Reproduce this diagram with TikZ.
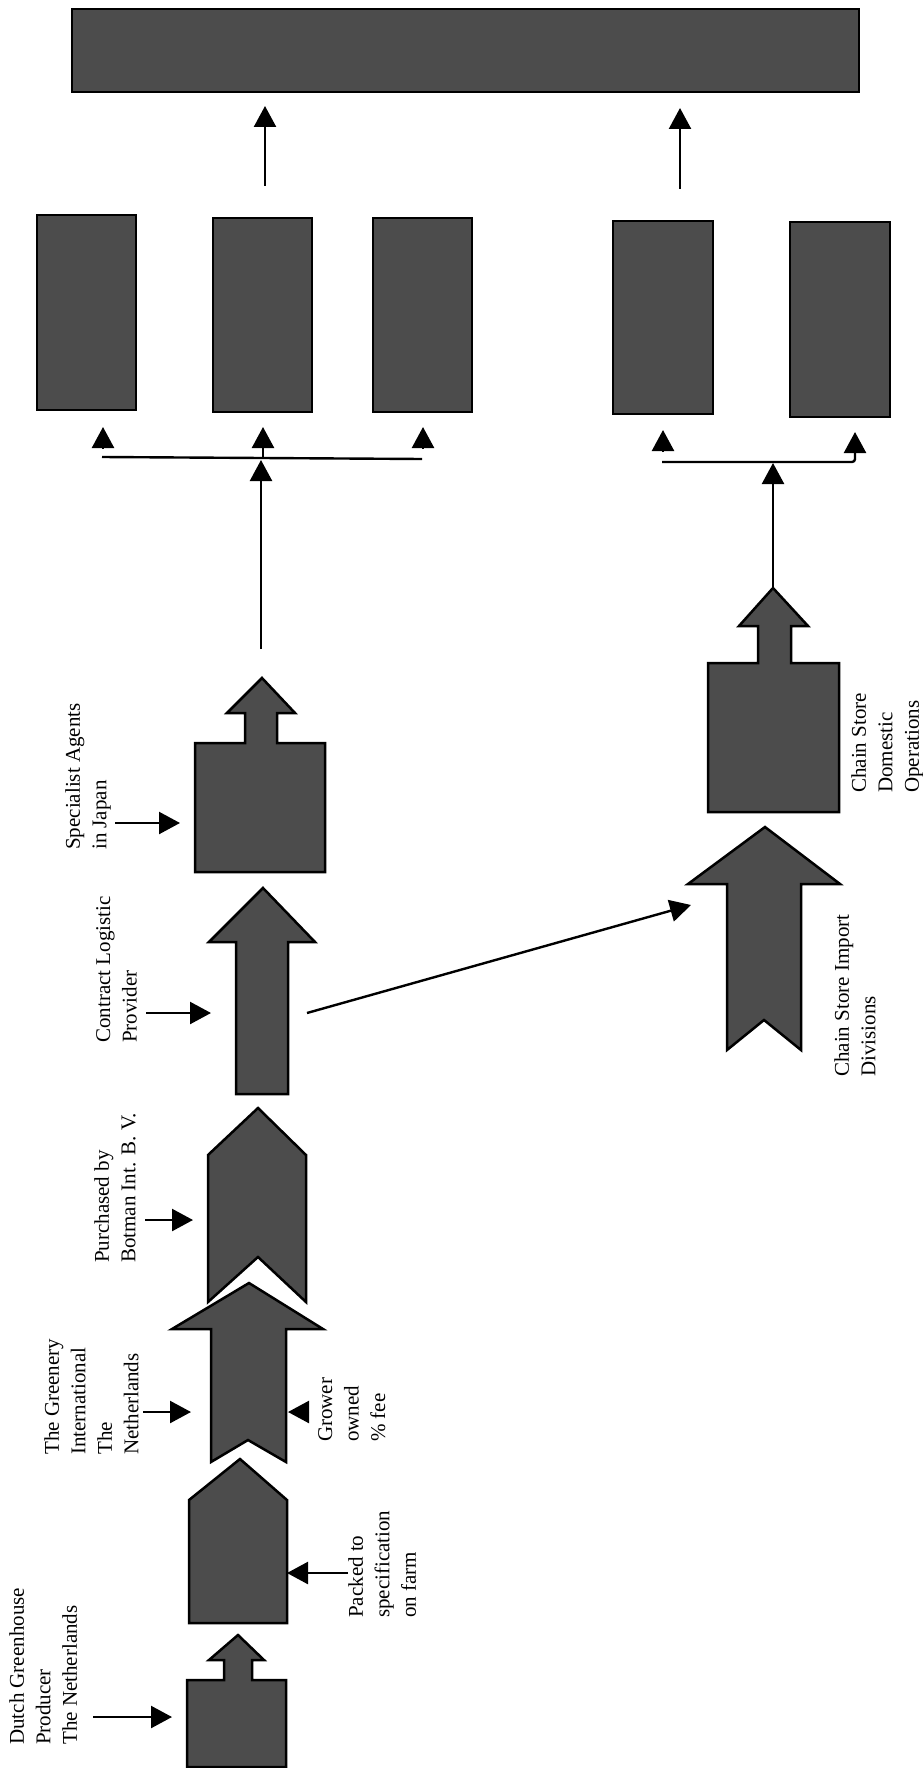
\documentclass[tikz,border=0pt]{standalone}
\usepackage{fontspec}
\setmainfont{Liberation Serif}
\usetikzlibrary{arrows.meta}
\begin{document}
\begin{tikzpicture}[x=1pt,y=-1pt,
  shapefill/.style={draw=black, line width=2.5pt, fill=black!70, line join=miter},
  box/.style={draw=black, line width=2.8pt, fill=black!70, rectangle, inner sep=0pt},
  conn/.style={line width=2.4pt, -{Triangle[length=21pt,width=22pt]}},
  plain/.style={line width=2.4pt},
  lbl/.style={rotate=90, anchor=north west, inner sep=0pt, align=left, font=\fontsize{21}{26.5}\selectfont}]
\useasboundingbox (0,0) rectangle (922,1768);

% ---------- banner and top boxes ----------
\node[box, minimum width=787pt, minimum height=83pt] (banner) at (465.5,50.5) {};
\node[box, minimum width=99pt, minimum height=195pt] (b1) at (86.5,312.5) {};
\node[box, minimum width=99pt, minimum height=194pt] (b2) at (262.5,315) {};
\node[box, minimum width=99pt, minimum height=194pt] (b3) at (422.5,315) {};
\node[box, minimum width=100pt, minimum height=193pt] (b4) at (663,317.5) {};
\node[box, minimum width=100pt, minimum height=195pt] (b5) at (840,319.5) {};

% ---------- flow shapes ----------
% Dutch greenhouse producer box with small arrow
\draw[shapefill] (187,1767) -- (187,1680) -- (224,1680) -- (224,1660) -- (209,1660) -- (238,1635)
  -- (264,1660) -- (252,1660) -- (252,1680) -- (286,1680) -- (286,1767) -- cycle;
% packed pentagon
\draw[shapefill] (189,1623) -- (189,1500) -- (240,1459) -- (287,1500) -- (287,1623) -- cycle;
% greenery notched arrow
\draw[shapefill] (211,1462) -- (248,1440) -- (286,1462) -- (286,1329) -- (323,1329) -- (249,1283)
  -- (172,1329) -- (211,1329) -- cycle;
% botman chevron
\draw[shapefill] (208,1302) -- (258,1257) -- (306,1302) -- (306,1155) -- (258,1108) -- (208,1155) -- cycle;
% contract logistic arrow
\draw[shapefill] (236,1094) -- (236,942) -- (209,942) -- (263,888) -- (315,942) -- (288,942) -- (288,1094) -- cycle;
% specialist agents box with small arrow
\draw[shapefill] (195,872) -- (195,743) -- (245,743) -- (245,713) -- (227,713) -- (262,678)
  -- (295,713) -- (277,713) -- (277,743) -- (325,743) -- (325,872) -- cycle;
% chain store import divisions notched arrow
\draw[shapefill] (727,1050) -- (764,1020) -- (801,1050) -- (801,884) -- (840,884) -- (765,827)
  -- (688,884) -- (727,884) -- cycle;
% chain store domestic operations box with small arrow
\draw[shapefill] (708,812) -- (708,663) -- (758,663) -- (758,626) -- (739,626) -- (773,588)
  -- (808,626) -- (791,626) -- (791,663) -- (839,663) -- (839,812) -- cycle;

% ---------- labels ----------
\node[lbl] (tDutch) at (9,1745) {Dutch Greenhouse\\Producer\\The Netherlands};
\node[lbl] (tPacked) at (348,1618) {Packed to\\specification\\on farm};
\node[lbl] (tGreenery) at (44,1455) {The Greenery\\International\\The\\Netherlands};
\node[lbl] (tGrower) at (318,1442) {Grower\\owned\\\% fee};
\node[lbl] (tBotman) at (94,1263) {Purchased by\\Botman Int. B. V.};
\node[lbl] (tContract) at (96,1043) {Contract Logistic\\Provider};
\node[lbl] (tSpecialist) at (65,850) {Specialist Agents\\in Japan};
\node[lbl] (tImport) at (834,1077) {Chain Store Import\\Divisions};
\node[lbl] (tDomestic) at (851,793) {Chain Store\\Domestic\\Operations};

% ---------- connector end points ----------
\coordinate (dutchS) at (93,1717);   \coordinate (dutchT) at (172,1717);
\coordinate (packS) at (348,1573);   \coordinate (packT) at (287,1573);
\coordinate (greenS) at (143,1412);  \coordinate (greenT) at (191,1412);
\coordinate (growS) at (309,1412);   \coordinate (growT) at (288,1412);
\coordinate (botS) at (145,1220);    \coordinate (botT) at (193,1220);
\coordinate (conS) at (146,1013);    \coordinate (conT) at (211,1013);
\coordinate (specS) at (115,823);    \coordinate (specT) at (180,823);
\coordinate (diagS) at (307,1013);   \coordinate (diagT) at (691,905);

\coordinate (lbar1) at (102,457);    \coordinate (lbar2) at (422,459);
\coordinate (lup) at (261,649);      \coordinate (lmid) at (261,460);
\coordinate (l1a) at (103,449);      \coordinate (l1b) at (103,427);
\coordinate (l2a) at (263,457);      \coordinate (l2b) at (263,427);
\coordinate (l3a) at (423,449);      \coordinate (l3b) at (423,427);

\coordinate (rbar1) at (662,462);    \coordinate (rcorner) at (855,462);
\coordinate (r2b) at (855,432);
\coordinate (rup) at (773,588);      \coordinate (rmid) at (773,463);
\coordinate (r1a) at (663,452);      \coordinate (r1b) at (663,430);

\coordinate (topLs) at (265,186);    \coordinate (topLt) at (265,106);
\coordinate (topRs) at (680,189);    \coordinate (topRt) at (680,108);

% ---------- connectors ----------
\draw[conn] (dutchS) -- (dutchT);
\draw[conn] (packS) -- (packT);
\draw[conn] (greenS) -- (greenT);
\draw[conn] (growS) -- (growT);
\draw[conn] (botS) -- (botT);
\draw[conn] (conS) -- (conT);
\draw[conn] (specS) -- (specT);
\draw[conn] (diagS) -- (diagT);

\draw[plain] (lbar1) -- (lbar2);
\draw[conn] (lup) -- (lmid);
\draw[conn] (l1a) -- (l1b);
\draw[conn] (l2a) -- (l2b);
\draw[conn] (l3a) -- (l3b);

\draw[conn, rounded corners=3pt] (rbar1) -- (rcorner) -- (r2b);
\draw[conn] (rup) -- (rmid);
\draw[conn] (r1a) -- (r1b);

\draw[conn] (topLs) -- (topLt);
\draw[conn] (topRs) -- (topRt);
\end{tikzpicture}
\end{document}
